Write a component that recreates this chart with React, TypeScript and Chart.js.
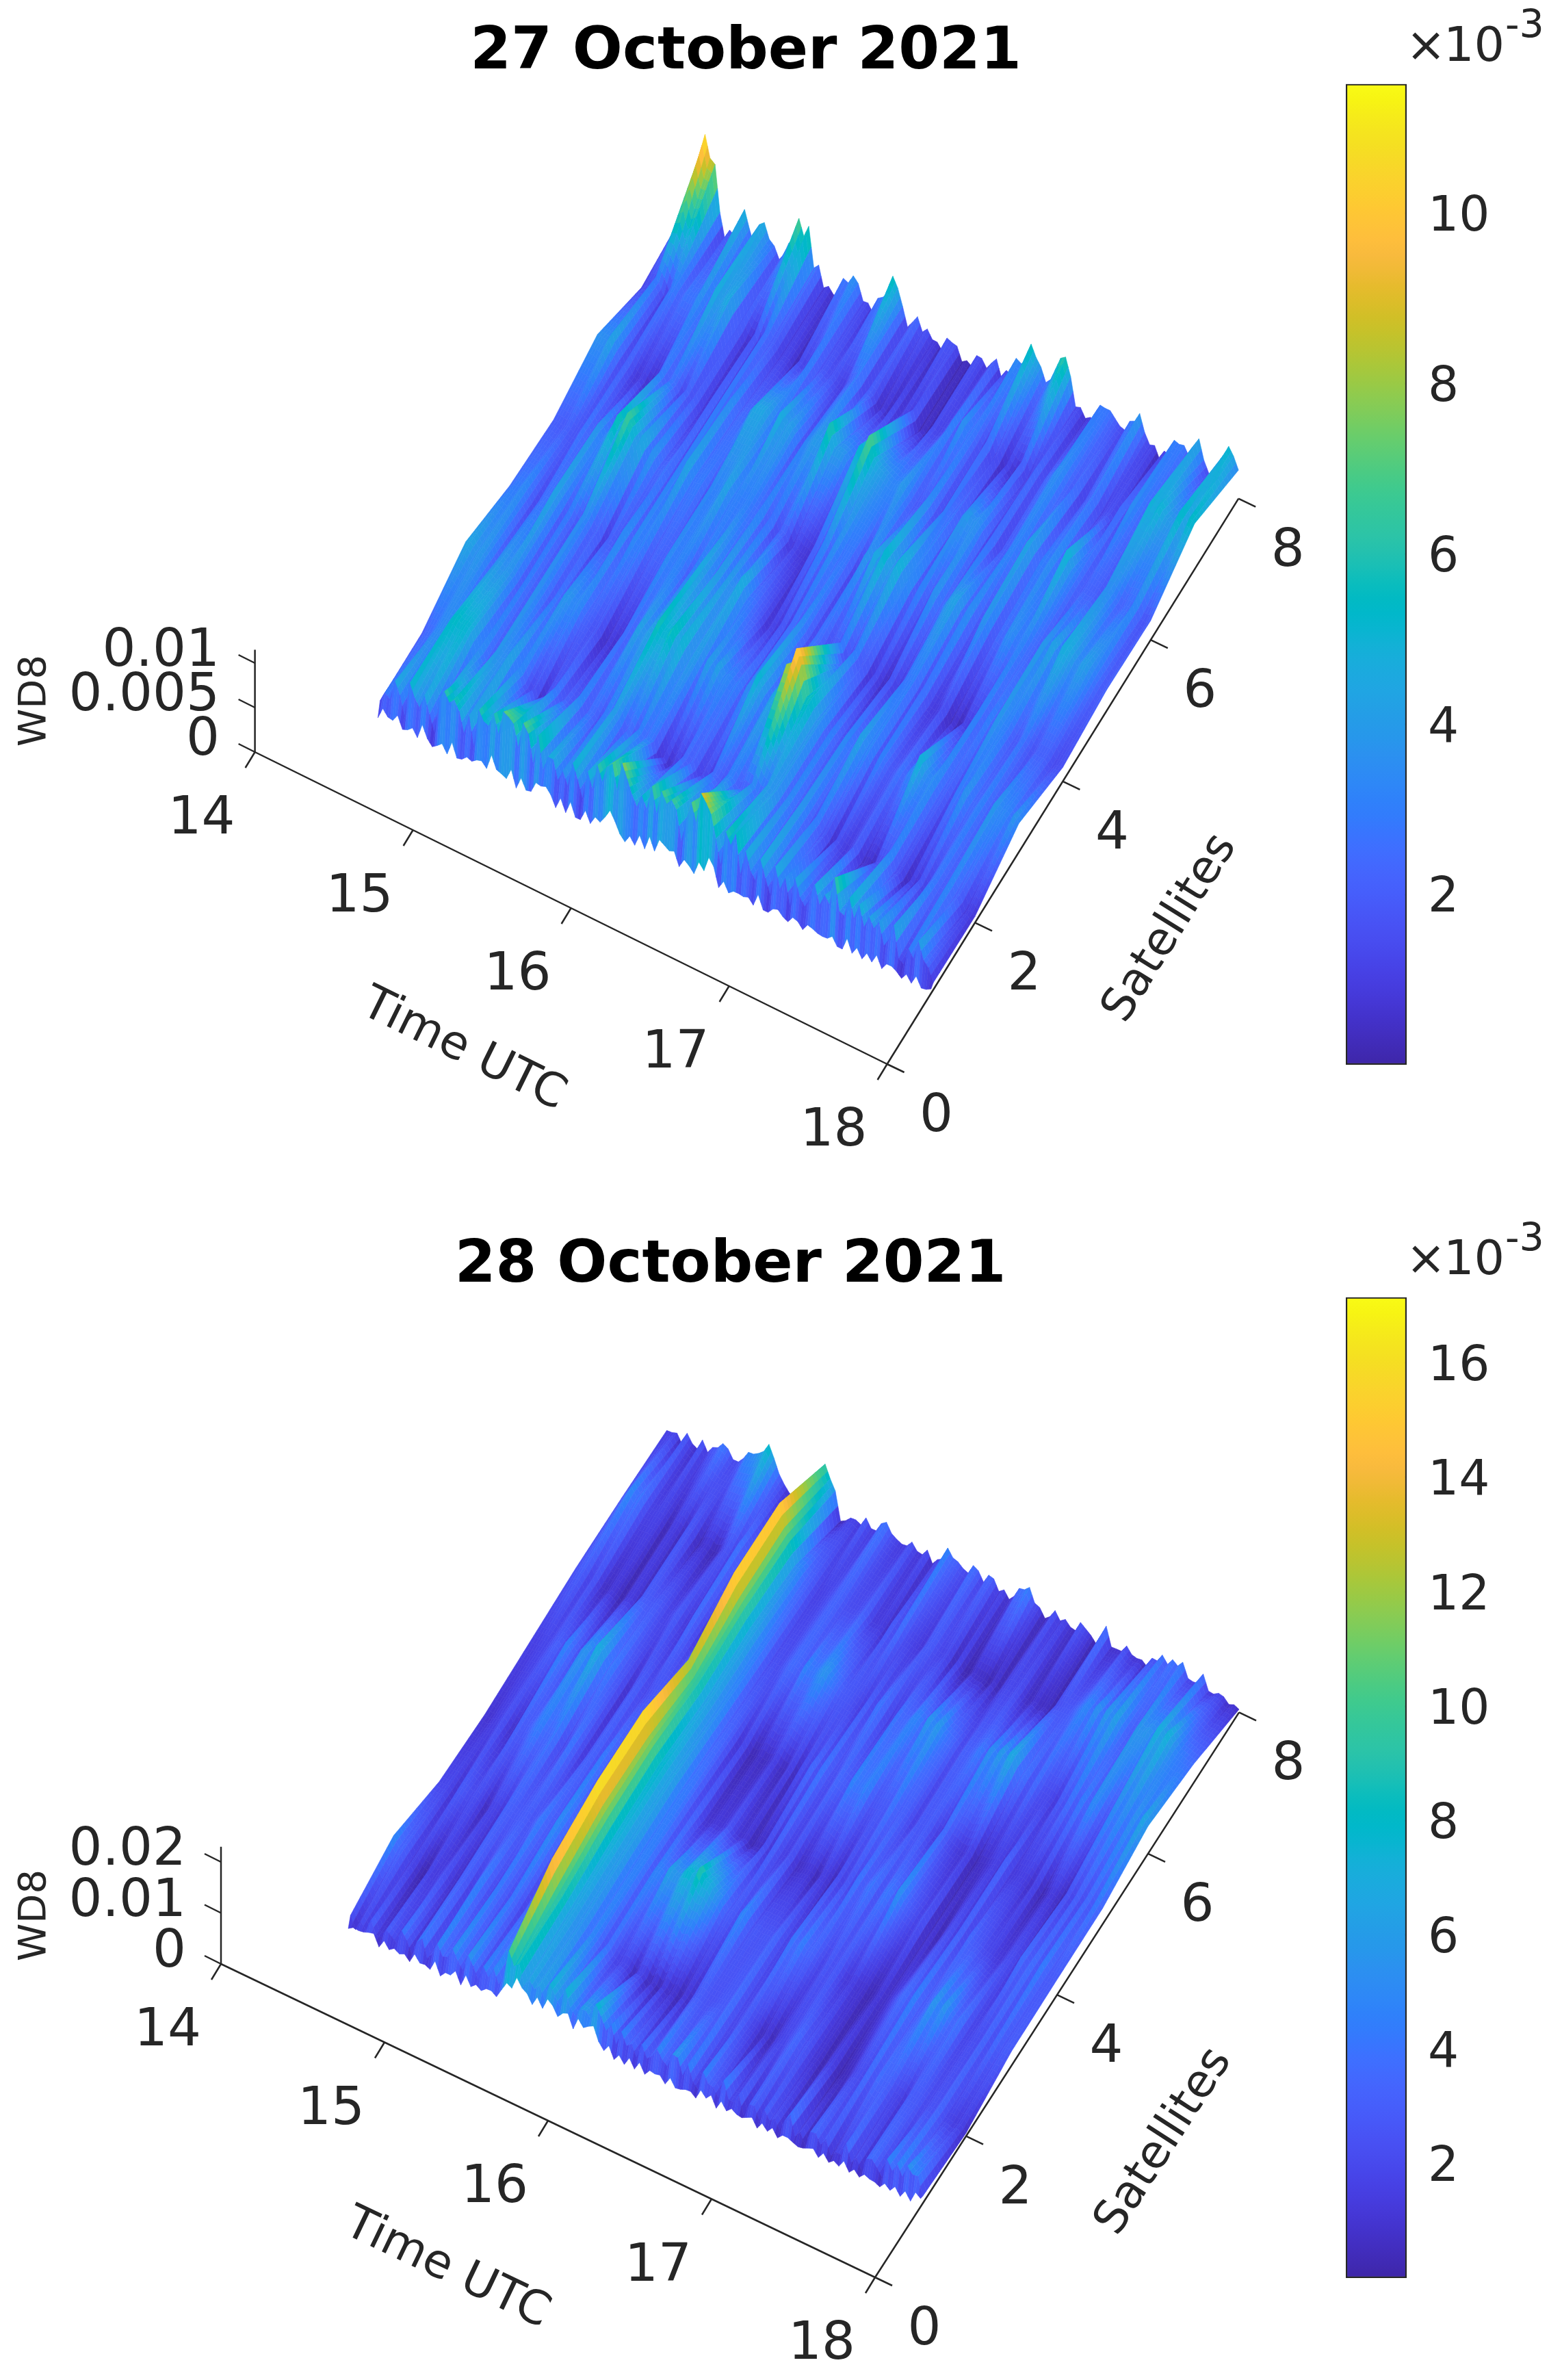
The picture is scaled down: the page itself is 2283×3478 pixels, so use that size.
import React, { useEffect, useRef } from "react";
import { Chart, registerables } from "chart.js";

Chart.register(...registerables);

// Axis ticks and labels
const timeTicks = [14, 15, 16, 17, 18];
const satTicks = [0, 2, 4, 6, 8];
const zTicks27 = [0, 0.005, 0.01];
const zLabels27 = ["0", "0.005", "0.01"];
const zTicks28 = [0, 0.01, 0.02];
const zLabels28 = ["0", "0.01", "0.02"];
const barTicks27 = [2, 4, 6, 8, 10];
const barTicks28 = [2, 4, 6, 8, 10, 12, 14, 16];

// Grid of the surfaces: hours UTC, satellite position
const hours = [
  14.5,14.531,14.563,14.594,14.625,14.656,14.688,14.719,14.75,14.781,14.813,14.844,14.875,14.906,14.938,14.969,
  15,15.031,15.063,15.094,15.125,15.156,15.188,15.219,15.25,15.281,15.313,15.344,15.375,15.406,15.438,15.469,
  15.5,15.531,15.563,15.594,15.625,15.656,15.688,15.719,15.75,15.781,15.813,15.844,15.875,15.906,15.938,15.969,
  16,16.031,16.063,16.094,16.125,16.156,16.188,16.219,16.25,16.281,16.313,16.344,16.375,16.406,16.438,16.469,
  16.5,16.531,16.563,16.594,16.625,16.656,16.688,16.719,16.75,16.781,16.813,16.844,16.875,16.906,16.938,16.969,
  17,17.031,17.063,17.094,17.125,17.156,17.188,17.219,17.25,17.281,17.313,17.344,17.375,17.406,17.438,17.469,
  17.5,17.531,17.563,17.594,17.625,17.656,17.688,17.719,17.75,17.781,17.813,17.844,17.875,17.906,17.938,17.969,18,
];
const sats = [1, 1.05, 2, 3, 4, 5, 6, 7, 8];

// WD8 on 27 October 2021, in units of 1e-4, one list per satellite position
const oct27_s100 = [7,14,12,4,18,9,3,10,6,15, 9,5,1,8,4,11,2,7,6,13, 6,12,9,18,16,7,8,14,6,12, 5,10,12,20,18,8,6,12,3,9, 1,7,11,4,7,13,16,22,25,3, 1,9,7,12,5,14,12,20,22,10, 18,9,12,5,8,16,14,24,26,8, 6,2,3,11,1,6,4,9,1,7, 3,10,1,6,3,9,1,7,2,8, 3,10,5,2,2,9,4,8,1,6, 3,8,1,7,3,9,2,5,1,7, 3,1,5];
const oct27_s105 = [30,24,33,36,39,30,46,38,42,34, 36,30,40,60,68,44,52,40,44,38, 50,52,58,48,62,70,77,52,60,64, 67,46,50,40,46,36,43,34,38,36, 41,38,45,42,52,62,66,60,68,72, 75,50,55,44,48,54,60,66,71,54, 62,44,50,64,70,84,90,58,61,42, 48,54,59,38,41,30,36,32,40,34, 38,30,35,28,32,36,40,30,38,42, 44,54,59,40,46,38,44,48,52,36, 38,32,36,28,34,26,30,24,28,34, 40,20,8];
const oct27_s2 = [28,24,34,30,42,50,55,62,65,52, 58,42,36,24,30,36,42,48,50,40, 34,22,18,12,10,16,23,28,28,22, 24,30,32,24,28,20,26,32,34,38, 38,30,26,22,28,34,30,20,14,9, 8,12,16,22,24,18,18,14,12,20, 26,30,32,26,30,20,24,30,34,40, 38,44,42,32,36,26,30,36,34,26, 30,20,16,10,10,16,20,14,18,10, 6,5,8,20,28,30,22,14,12,8, 8,14,18,24,24,30,32,36,26,20, 16,12,8];
const oct27_s3 = [55,48,45,38,42,34,36,44,46,36, 40,30,30,24,28,34,34,26,30,38, 36,44,42,30,36,22,22,14,12,7, 8,16,22,30,36,44,50,46,52,58, 60,70,65,50,56,42,44,34,38,44, 40,50,45,32,34,26,30,38,42,54, 50,40,44,48,52,90,100,112,110,76, 58,44,40,30,32,22,24,30,34,44, 45,36,34,24,28,32,30,22,24,32, 36,48,55,46,44,32,30,22,24,28, 30,38,36,26,28,32,34,42,40,32, 38,44,37];
const oct27_s4 = [36,30,38,34,30,22,24,30,34,44, 42,28,30,20,24,32,36,28,26,16, 18,22,24,34,30,38,36,28,30,22, 26,34,32,38,36,26,30,34,36,44, 44,36,46,36,40,46,42,50,45,26, 30,18,14,8,10,14,18,28,26,34, 30,24,28,20,24,16,22,28,20,32, 30,20,24,12,14,6,8,12,14,22, 24,34,30,20,26,16,20,10,14,6, 8,4,6,12,16,28,28,34,36,40, 38,26,30,20,24,30,28,20,26,18, 22,16,18];
const oct27_s5 = [30,20,26,18,22,30,28,24,32,38, 36,52,48,68,60,70,65,48,56,36, 40,26,32,22,26,36,34,46,42,28, 36,24,30,40,38,46,44,32,40,26, 32,40,36,22,28,18,24,14,18,10, 14,8,12,22,20,32,30,40,36,24, 32,20,28,40,36,52,44,56,50,60, 55,36,42,26,34,18,26,36,30,42, 36,50,44,30,36,24,30,40,34,22, 28,36,32,44,38,28,34,24,30,42, 36,46,42,52,46,54,48,42,50,30, 36,20,27];
const oct27_s6 = [49,38,45,46,36,22,24,12,14,6, 8,16,18,34,30,22,28,18,24,28, 20,10,14,20,18,34,28,36,34,24, 30,50,42,56,50,30,36,54,50,38, 40,26,32,44,38,52,44,66,58,40, 48,28,36,58,50,74,68,46,52,32, 38,50,45,26,30,18,22,34,30,20, 26,32,28,22,36,46,48,32,38,20, 28,12,18,32,26,40,34,46,42,28, 34,42,36,30,40,52,45,28,34,20, 26,16,24,38,32,38,34,24,30,36, 28,18,25];
const oct27_s7 = [18,14,20,28,24,18,26,34,30,24, 34,42,38,28,36,48,44,58,50,26, 20,8,8,14,18,30,26,16,20,10, 14,6,8,18,16,30,28,18,24,10, 14,22,18,32,28,16,22,10,14,5, 8,18,14,8,12,16,8,4,6,10, 14,26,22,32,28,40,34,24,30,18, 26,12,18,6,10,4,6,18,14,28, 24,14,20,38,30,44,38,20,26,14, 20,36,28,14,24,8,14,30,26,36, 34,18,28,56,44,66,60,40,48,58, 52,62,59];
const oct27_s8 = [22,30,50,85,115,96,82,33,11,14, 18,30,47,30,20,36,48,36,24,22, 18,38,50,64,60,66,26,24,14,8, 6,12,22,30,36,26,20,12,10,18, 30,44,55,50,24,14,16,20,20,14, 12,8,7,14,18,8,4,2,4,10, 16,14,14,18,10,12,16,28,36,44, 53,48,36,30,26,44,64,56,47,20, 10,6,6,12,22,30,35,20,10,18, 26,36,36,24,16,6,3,10,18,26, 29,24,25,34,39,28,19,12,14,36, 58,44,32];
// Stripes that run through every satellite on 27 October, same units
const stripes27 = [-6,3,-4,6,-2,-8,4,1,-5,7, -3,-9,5,2,-7,8,-1,-6,3,-10, 6,0,-4,9,-8,2,-3,7,-9,4, -2,-7,8,-5,1,6,-8,3,-6,9, -1,-9,4,-3,7,-6,2,8,-10,5, -4,1,-7,6,-2,9,-8,3,-5,7, -1,-9,2,6,-7,4,-3,8,-6,-10, 7,-2,3,-8,5,1,-6,9,-4,-9, 6,-1,4,-7,8,-3,-9,2,7,-5, 1,-8,6,-2,-6,9,-4,3,-10,5, -1,7,-7,2,8,-5,-9,4,-2,6, -6,1,0];
// Correction of the estimates per satellite position on 27 October
const gain27 = [1, 1, 0.87, 0.87, 0.87, 0.87, 0.87, 0.87, 1];

// WD8 on 28 October 2021, in units of 1e-4, one list per satellite position
const oct28_s100 = [5,18,12,20,15,24,2,14,4,16, 1,12,5,18,3,14,5,20,4,18, 9,24,7,22,11,24,8,20,16,18, 32,50,48,66,60,46,33,46,40,54, 48,36,38,50,27,44,35,48,43,20, 12,18,5,12,1,14,6,16,3,12, 5,16,5,14,1,10,4,12,8,18, 12,20,6,14,9,16,4,12,9,16, 4,10,6,12,3,9,5,11,3,10, 5,11,2,9,1,8,4,12,1,8, 3,9,2,8,1,7,4,12,6,14, 5,18,16];
const oct28_s105 = [19,14,20,26,24,18,28,22,22,28, 30,34,26,30,36,28,30,36,40,52, 46,34,36,44,48,38,42,36,44,44, 50,105,90,78,68,62,58,52,62,70, 60,56,66,58,54,50,62,68,70,60, 50,42,38,46,34,26,30,38,42,32, 36,44,40,46,51,40,36,28,30,38, 34,24,28,36,30,24,26,18,22,30, 27,20,24,16,20,28,32,24,26,18, 22,30,28,20,24,16,22,28,24,18, 22,30,26,34,30,38,36,42,46,52, 56,32,14];
const oct28_s2 = [48,38,32,20,14,8,8,14,12,22, 20,12,16,28,26,18,34,40,30,22, 40,30,26,36,34,24,30,40,36,36, 42,155,110,84,70,62,54,50,44,46, 38,28,34,26,22,14,16,10,10,14, 6,4,8,12,7,5,5,10,14,24, 22,30,30,20,26,36,34,22,30,24, 20,12,10,5,6,16,12,28,24,36, 32,20,14,6,5,12,10,4,6,14, 12,20,24,34,30,38,34,24,26,14, 18,28,22,32,28,18,24,32,26,14, 18,10,6];
const oct28_s3 = [15,24,18,14,22,30,28,18,16,8, 10,20,18,30,24,34,30,22,28,42, 40,28,34,46,44,30,36,28,30,30, 40,170,130,100,80,70,60,56,50,42, 44,32,38,50,46,60,58,66,68,78, 76,88,85,70,60,44,36,26,30,44, 42,28,34,20,24,34,30,22,26,38, 34,44,40,26,30,18,22,30,26,14, 20,10,12,6,8,3,5,14,12,28, 24,36,32,42,38,30,44,52,48,56, 52,30,38,22,28,16,22,32,26,36, 30,22,28];
const oct28_s4 = [8,14,12,24,20,12,16,30,26,38, 34,48,44,32,38,24,26,36,30,18, 22,32,28,38,36,26,30,22,26,26, 36,168,126,102,84,74,64,58,50,40, 36,24,28,14,16,8,12,24,20,12, 14,6,10,4,8,20,14,32,26,14, 20,10,14,6,10,4,8,16,6,20, 14,26,22,36,30,40,36,28,34,42, 38,50,42,24,30,14,22,8,14,6, 10,22,18,30,24,36,30,18,26,14, 22,10,16,26,20,34,26,36,30,44, 34,20,30];
const oct28_s5 = [13,20,16,26,20,36,30,44,36,28, 42,60,52,68,60,40,46,20,30,12, 18,30,24,16,30,38,26,34,32,32, 40,130,104,88,70,62,52,46,40,30, 26,12,16,6,10,4,6,18,12,4, 10,14,8,22,16,34,26,40,34,20, 28,36,32,44,38,50,42,28,36,22, 28,40,36,24,30,16,22,34,26,14, 20,32,26,12,18,8,12,4,8,16, 6,14,14,30,22,12,18,6,12,18, 9,4,8,14,7,20,16,30,24,36, 28,38,31];
const oct28_s6 = [18,34,30,20,24,12,14,8,8,4, 6,16,14,26,22,34,30,16,20,30, 26,12,18,32,28,18,24,36,30,30, 38,162,122,94,74,60,46,36,30,20, 20,34,28,38,36,44,42,52,46,56, 50,32,38,24,28,14,20,30,26,38, 32,18,24,36,32,44,40,50,44,54, 48,58,52,30,38,20,26,38,32,44, 40,50,46,58,54,66,58,36,44,28, 34,20,26,12,20,30,24,36,30,44, 36,48,42,30,36,46,40,50,44,54, 48,60,54];
const oct28_s7 = [16,40,50,44,36,20,24,12,14,6, 8,16,12,24,18,8,10,4,6,14, 14,26,22,36,28,42,34,44,40,40, 44,160,122,88,60,46,36,24,26,12, 18,30,24,36,30,16,22,34,28,12, 18,8,14,28,22,36,30,14,24,10, 18,34,26,12,20,8,14,6,10,4, 8,3,6,4,5,18,14,26,20,8, 14,4,8,3,6,20,16,34,28,42, 36,48,42,52,46,60,50,58,52,26, 38,56,48,62,56,68,60,72,65,42, 48,30,37];
const oct28_s8 = [12,20,18,8,24,16,14,26,10,30, 24,44,44,18,16,38,50,44,60,72, 80,60,40,14,10,10,12,10,8,8, 10,98,78,50,6,4,18,12,20,28, 14,20,28,44,30,14,14,22,22,12, 16,20,10,14,24,44,40,28,30,18, 32,36,20,30,30,18,14,8,24,32, 40,46,28,12,6,12,22,18,16,8, 14,22,22,8,4,20,38,14,10,16, 20,10,14,6,10,24,26,34,32,38, 40,44,14,20,26,36,14,8,24,14, 10,4,6];
// Stripes that run through every satellite on 28 October, same units
const stripes28 = [4,-5,2,-7,6,-3,-8,5,1,-6, 7,-2,-9,3,6,-7,-1,8,-4,-8, 5,2,-6,7,-3,-9,4,-1,6,-7, 0,0,-5,6,-8,3,-2,7,-9,4, 1,-6,8,-3,-7,5,-1,-9,6,2, -5,7,-8,3,-2,6,-7,4,-9,1, 8,-4,-6,5,2,-8,7,-3,-9,6, -1,3,-7,8,-5,-2,6,-8,4,1, -9,7,-3,5,-6,2,8,-7,-1,-8, 6,3,-5,7,-9,1,-2,8,-6,4, -8,2,6,-4,-9,7,-1,5,-7,3, -5,8,0];
const gain28 = [1, 1, 1, 1, 1, 1, 1, 1, 1];

// How strongly the stripes show on each satellite position
const stripeWeights = [0.7, 2, 1, 1, 1, 1, 1, 1, 0.8];

const rows27 = [oct27_s100, oct27_s105, oct27_s2, oct27_s3, oct27_s4, oct27_s5, oct27_s6, oct27_s7, oct27_s8];
const rows28 = [oct28_s100, oct28_s105, oct28_s2, oct28_s3, oct28_s4, oct28_s5, oct28_s6, oct28_s7, oct28_s8];

const PARULA = [
  [0.2422,0.1504,0.6603],[0.2504,0.165,0.7076],[0.2578,0.1818,0.7511],[0.2647,0.1978,0.7952],
  [0.2706,0.2147,0.8364],[0.2751,0.2342,0.871],[0.2783,0.2559,0.8991],[0.2803,0.2782,0.9221],
  [0.2813,0.3006,0.9414],[0.281,0.3228,0.9579],[0.2795,0.3447,0.9717],[0.276,0.3667,0.9829],
  [0.2699,0.3892,0.9906],[0.2602,0.4123,0.9952],[0.244,0.4358,0.9988],[0.2206,0.4603,0.9973],
  [0.1963,0.4847,0.9892],[0.1834,0.5074,0.9798],[0.1786,0.5289,0.9682],[0.1764,0.5499,0.952],
  [0.1687,0.5703,0.9359],[0.154,0.5902,0.9218],[0.146,0.6091,0.9079],[0.138,0.6276,0.8973],
  [0.1248,0.6459,0.8883],[0.1113,0.6635,0.8763],[0.0952,0.6798,0.8598],[0.0689,0.6948,0.8394],
  [0.0297,0.7082,0.8163],[0.0036,0.7203,0.7917],[0.0067,0.7312,0.766],[0.0433,0.7411,0.7394],
  [0.0964,0.75,0.712],[0.1408,0.7584,0.6842],[0.1717,0.767,0.6554],[0.1938,0.7758,0.6251],
  [0.2161,0.7843,0.5923],[0.247,0.7918,0.5567],[0.2906,0.7973,0.5188],[0.3406,0.8008,0.4789],
  [0.3909,0.8029,0.4354],[0.4456,0.8024,0.3909],[0.5044,0.7993,0.348],[0.5616,0.7942,0.3045],
  [0.6174,0.7876,0.2612],[0.672,0.7793,0.2227],[0.7242,0.7698,0.191],[0.7738,0.7598,0.1646],
  [0.8203,0.7498,0.1535],[0.8634,0.7406,0.1596],[0.9035,0.733,0.1774],[0.9393,0.7288,0.21],
  [0.9728,0.7298,0.2394],[0.9956,0.7434,0.2371],[0.997,0.7659,0.2199],[0.9952,0.7861,0.1991],
  [0.9892,0.8086,0.1827],[0.9786,0.8288,0.1717],[0.9676,0.8513,0.1534],[0.961,0.8742,0.134],
  [0.9597,0.8979,0.1181],[0.9628,0.925,0.0978],[0.9691,0.9555,0.0752],[0.9769,0.9839,0.0805],
];

const FONT = "'DejaVu Sans'";
const INK = "#262626";
const PAGE_W = 2283;
const PAGE_H = 3478;
const PANEL2_TOP = 1773;
const TITLE_SIZE = 86;
const TITLE_PAD = 26;
const TITLE_H = TITLE_SIZE * 1.2 + TITLE_PAD;

function parula(v: number) {
  const f = Math.max(0, Math.min(1, v)) * (PARULA.length - 1);
  const i = Math.min(PARULA.length - 2, Math.floor(f));
  const k = f - i;
  const c = [0, 1, 2].map((n) => Math.round(255 * (PARULA[i][n] * (1 - k) + PARULA[i + 1][n] * k)));
  return `rgb(${c[0]},${c[1]},${c[2]})`;
}

type Panel = {
  title: string; top: number; width: number; height: number;
  ox: number; oy: number; tx: number; ty: number; sx: number; sy: number; kz: number;
  cmax: number; rows: number[][]; stripes: number[]; gain: number[]; zTicks: number[]; zLabels: string[];
  zLabelX: number; timeTitle: [number, number]; satTitle: [number, number]; wdY: number;
};

const panel27: Panel = {
  title: "27 October 2021", top: 0, width: 2180, height: PANEL2_TOP,
  ox: 372.6, oy: 1099, tx: 231, ty: 114, sx: 64.2, sy: 103.3, kz: 13000,
  cmax: 0.011515, rows: rows27, stripes: stripes27, gain: gain27, zTicks: zTicks27, zLabels: zLabels27,
  zLabelX: 321, timeTitle: [677, 1535], satTitle: [1711, 1357], wdY: 1024,
};
const panel28: Panel = {
  title: "28 October 2021", top: PANEL2_TOP, width: 2135, height: PAGE_H - PANEL2_TOP,
  ox: 323, oy: 2870 - PANEL2_TOP, tx: 239, ty: 114.5, sx: 66.5, sy: 103.2, kz: 7450,
  cmax: 0.01715, rows: rows28, stripes: stripes28, gain: gain28, zTicks: zTicks28, zLabels: zLabels28,
  zLabelX: 272, timeTitle: [653, 3316 - PANEL2_TOP], satTitle: [1702, 3130 - PANEL2_TOP], wdY: 1026,
};

const px = (p: Panel, t: number, s: number) => p.ox + (t - 14) * p.tx + s * p.sx;
const py = (p: Panel, t: number, s: number, z: number) => p.oy + (t - 14) * p.ty - s * p.sy - z * p.kz;
const pt = (p: Panel, t: number, s: number, z: number) => ({ x: px(p, t, s), y: py(p, t, s, z) });

const surfacePlugin = (p: Panel) => ({
  id: "surface",
  beforeDatasetsDraw(chart: any) {
    const { ctx, scales } = chart;
    const verts = chart.data.datasets[0].data as any[];
    const nc = hours.length;
    const nr = sats.length;
    const X = (v: any) => scales.x.getPixelForValue(v.x);
    const Y = (v: any) => scales.y.getPixelForValue(v.y);
    ctx.save();
    ctx.lineWidth = 0.6;
    for (let r = nr - 2; r >= 0; r--) {
      const ns = Math.max(1, Math.round((sats[r + 1] - sats[r]) * 14));
      for (let c = 0; c < nc - 1; c++) {
        const a = verts[r * nc + c], b = verts[r * nc + c + 1];
        const d = verts[(r + 1) * nc + c], e = verts[(r + 1) * nc + c + 1];
        const ax = X(a), ay = Y(a), bx = X(b), by = Y(b), dx = X(d), dy = Y(d), ex = X(e), ey = Y(e);
        const lerp = (u: number, w: number) => ({
          x: (ax * (1 - u) + bx * u) * (1 - w) + (dx * (1 - u) + ex * u) * w,
          y: (ay * (1 - u) + by * u) * (1 - w) + (dy * (1 - u) + ey * u) * w,
        });
        const nt = 2;
        for (let is = ns - 1; is >= 0; is--) {
          for (let it = 0; it < nt; it++) {
            const u0 = it / nt, u1 = (it + 1) / nt, w0 = is / ns, w1 = (is + 1) / ns;
            const um = (u0 + u1) / 2, wm = (w0 + w1) / 2;
            const z = (a.z * (1 - um) + b.z * um) * (1 - wm) + (d.z * (1 - um) + e.z * um) * wm;
            const col = parula(z / p.cmax);
            const q0 = lerp(u0, w0), q1 = lerp(u1, w0), q2 = lerp(u1, w1), q3 = lerp(u0, w1);
            ctx.beginPath();
            ctx.moveTo(q0.x, q0.y);
            ctx.lineTo(q1.x, q1.y);
            ctx.lineTo(q2.x, q2.y);
            ctx.lineTo(q3.x, q3.y);
            ctx.closePath();
            ctx.fillStyle = col;
            ctx.strokeStyle = col;
            ctx.fill();
            ctx.stroke();
          }
        }
      }
    }
    ctx.restore();
  },
  afterDatasetsDraw(chart: any) {
    const { ctx, scales } = chart;
    const X = (v: number) => scales.x.getPixelForValue(v);
    const Y = (v: number) => scales.y.getPixelForValue(v);
    ctx.save();
    ctx.strokeStyle = INK;
    ctx.fillStyle = INK;
    ctx.lineWidth = 2.5;
    const tick = (v: { x: number; y: number }, dx: number, dy: number) => {
      ctx.beginPath();
      ctx.moveTo(X(v.x), Y(v.y));
      ctx.lineTo(X(v.x) + dx, Y(v.y) + dy);
      ctx.stroke();
    };
    ctx.font = `77px ${FONT}`;
    ctx.textBaseline = "middle";
    ctx.textAlign = "center";
    timeTicks.forEach((t) => {
      const v = pt(p, t, 0, 0);
      tick(v, -14, 23);
      ctx.fillText(String(t), X(v.x) - 78, Y(v.y) + 99);
    });
    satTicks.forEach((s) => {
      const v = pt(p, 18, s, 0);
      tick(v, 25, 12);
      ctx.fillText(String(s), X(v.x) + 72, Y(v.y) + 78);
    });
    ctx.textAlign = "right";
    p.zTicks.forEach((z, i) => {
      const v = pt(p, 14, 0, z);
      tick(v, -24, -12);
      ctx.fillText(p.zLabels[i], p.zLabelX, Y(v.y) - 16);
    });
    ctx.textAlign = "center";
    const rotated = (text: string, x: number, y: number, angle: number, size: number) => {
      ctx.save();
      ctx.translate(x, y);
      ctx.rotate(angle);
      ctx.font = `${size}px ${FONT}`;
      ctx.fillText(text, 0, 0);
      ctx.restore();
    };
    rotated("Time UTC", p.timeTitle[0], p.timeTitle[1], Math.atan2(p.ty, p.tx), 68);
    rotated("Satellites", p.satTitle[0], p.satTitle[1], -Math.atan2(p.sy, p.sx), 67);
    rotated("WD8", 51, p.wdY, -Math.PI / 2, 56);
    ctx.restore();
  },
});

function SurfacePanel({ p }: { p: Panel }) {
  const ref = useRef<HTMLCanvasElement>(null);
  useEffect(() => {
    const vertices: any[] = [];
    sats.forEach((s, r) => {
      hours.forEach((t, c) => {
        const z = Math.max(0.5, p.rows[r][c] * p.gain[r] + p.stripes[c] * stripeWeights[r]) * 1e-4;
        vertices.push({ ...pt(p, t, s, z), z });
      });
    });
    const axisStyle = { showLine: true, borderColor: INK, borderWidth: 2.5, pointRadius: 0 };
    const top = p.zTicks[p.zTicks.length - 1] * 1.15;
    const chart = new Chart(ref.current!, {
      type: "scatter",
      data: {
        datasets: [
          { label: "WD8", data: vertices, pointRadius: 0, showLine: false },
          { label: "Time UTC axis", data: [pt(p, timeTicks[0], 0, 0), pt(p, timeTicks[4], 0, 0)], ...axisStyle },
          { label: "Satellites axis", data: [pt(p, 18, satTicks[0], 0), pt(p, 18, satTicks[4], 0)], ...axisStyle },
          { label: "WD8 axis", data: [pt(p, 14, 0, 0), pt(p, 14, 0, top)], ...axisStyle },
        ],
      } as any,
      options: {
        animation: false,
        responsive: false,
        devicePixelRatio: 1,
        layout: { padding: 0 },
        events: [],
        plugins: {
          legend: { display: false },
          tooltip: { enabled: false },
          title: {
            display: true,
            text: p.title,
            color: "#000",
            font: { family: FONT, size: TITLE_SIZE, weight: "bold", lineHeight: 1.2 },
            padding: { top: TITLE_PAD, bottom: 0 },
          },
        },
        scales: {
          x: { type: "linear", display: false, min: 0, max: p.width },
          y: { type: "linear", display: false, min: TITLE_H, max: p.height, reverse: true },
        },
      } as any,
      plugins: [surfacePlugin(p)],
    });
    return () => chart.destroy();
  }, [p]);
  return (
    <canvas
      ref={ref}
      width={p.width}
      height={p.height}
      style={{ position: "absolute", left: 0, top: p.top, width: p.width, height: p.height }}
    />
  );
}

function ColorBar({ top, cmax, ticks }: { top: number; cmax: number; ticks: number[] }) {
  const ref = useRef<HTMLCanvasElement>(null);
  useEffect(() => {
    const chart = new Chart(ref.current!, {
      type: "bar",
      data: {
        labels: ["WD8"],
        datasets: [
          {
            data: [[0, cmax]],
            barPercentage: 1,
            categoryPercentage: 1,
            borderColor: INK,
            borderWidth: 2.5,
            borderSkipped: false,
            backgroundColor: (ctx: any) => {
              const area = ctx.chart.chartArea;
              if (!area) return "#fff";
              const g = ctx.chart.ctx.createLinearGradient(0, area.bottom, 0, area.top);
              PARULA.forEach((c, i) =>
                g.addColorStop(i / (PARULA.length - 1), parula(i / (PARULA.length - 1)))
              );
              return g;
            },
          },
        ],
      } as any,
      options: {
        animation: false,
        responsive: false,
        devicePixelRatio: 1,
        events: [],
        layout: { padding: { left: 67, right: 0, top: 122.7, bottom: 144 } },
        plugins: { legend: { display: false }, tooltip: { enabled: false }, title: { display: false } },
        scales: {
          x: { type: "category", display: false },
          y: {
            type: "linear",
            position: "right",
            min: 0,
            max: cmax,
            afterFit: (s: any) => { s.width = 227; },
            afterBuildTicks: (s: any) => { s.ticks = ticks.map((value) => ({ value })); },
            border: { display: false },
            grid: { drawOnChartArea: false, tickLength: -15, tickWidth: 2.5, tickColor: INK },
            ticks: {
              autoSkip: false,
              padding: 46,
              labelOffset: 7,
              color: INK,
              font: { family: FONT, size: 71 },
              callback: (v: any) => String(v),
            },
          },
        },
      } as any,
      plugins: [
        {
          id: "exponent",
          afterDraw(c: any) {
            const g = c.ctx;
            g.save();
            g.fillStyle = INK;
            g.textBaseline = "alphabetic";
            g.textAlign = "center";
            g.font = `70px ${FONT}`;
            g.fillText("×", 184, 89);
            g.textAlign = "left";
            g.fillText("10", 210, 89);
            g.font = `57px ${FONT}`;
            g.fillText("-3", 300, 55);
            g.restore();
          },
        },
      ],
    });
    return () => chart.destroy();
  }, [cmax, ticks]);
  return (
    <canvas
      ref={ref}
      width={383}
      height={1700}
      style={{ position: "absolute", left: 1900, top, width: 383, height: 1700 }}
    />
  );
}

export default function App() {
  return (
    <div style={{ position: "absolute", left: 0, top: 0, width: PAGE_W, height: PAGE_H, overflow: "hidden", background: "#fff" }}>
      <SurfacePanel p={panel27} />
      <SurfacePanel p={panel28} />
      <ColorBar top={0} cmax={11.515} ticks={barTicks27} />
      <ColorBar top={PANEL2_TOP} cmax={17.15} ticks={barTicks28} />
    </div>
  );
}
